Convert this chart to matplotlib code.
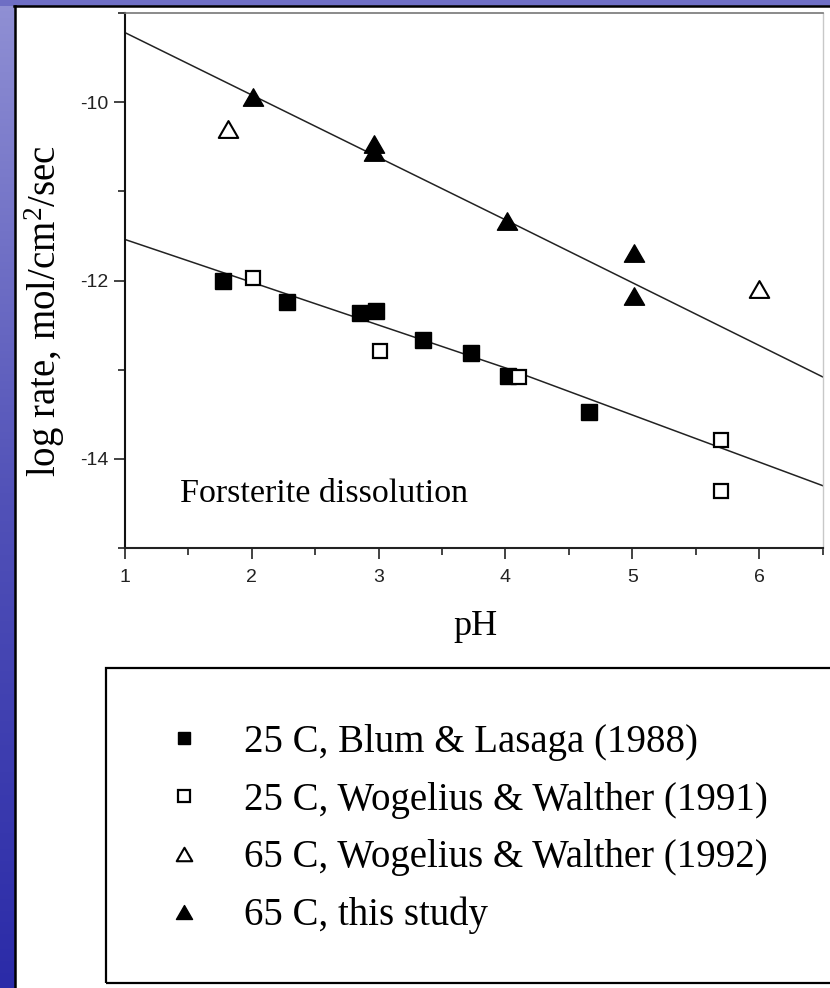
import numpy as np
import matplotlib
matplotlib.use("Agg")
import matplotlib.pyplot as plt
from matplotlib.patches import Rectangle
from matplotlib.path import Path

plt.rcParams['axes.unicode_minus'] = False
plt.rcParams['mathtext.fontset'] = 'custom'
plt.rcParams['mathtext.rm'] = 'Liberation Serif'
plt.rcParams['mathtext.default'] = 'regular'

# forsterite dissolution rates, log mol/cm2/sec vs pH
blum_ph = [1.77, 2.28, 2.85, 2.98, 3.35, 3.73, 4.02, 4.66]
blum_rate = [-12.01, -12.24, -12.37, -12.34, -12.67, -12.81, -13.07, -13.48]

wog91_ph = [2.01, 3.01, 4.11, 5.70, 5.70]
wog91_rate = [-11.97, -12.79, -13.08, -13.79, -14.36]

wog92_ph = [1.81, 6.00]
wog92_rate = [-10.30, -12.09]

study_ph = [2.01, 2.96, 2.96, 4.01, 5.01, 5.01]
study_rate = [-9.94, -10.47, -10.56, -11.33, -11.69, -12.17]

# fitted trends for 25 C and 65 C
fit_ph = [1.0, 4.0, 6.5]
fit_25 = [-11.54, -12.98, -14.30]
fit_65 = [-9.22, -11.32, -13.08]

labels = ['25 C, Blum & Lasaga (1988)',
          '25 C, Wogelius & Walther (1991)',
          '65 C, Wogelius & Walther (1992)',
          '65 C, this study']

serif = 'Liberation Serif'
sans = 'Liberation Sans'
# equilateral triangle, closed so the open marker has all three edges
tri = Path([(-1, -0.866), (1, -0.866), (0, 0.866), (-1, -0.866)], closed=True)

W, H = 830, 988
fig = plt.figure(figsize=(W / 100, H / 100), dpi=100, facecolor='white')

# slide background strips
grad = np.linspace(0, 1, 256).reshape(-1, 1)
band = fig.add_axes([0, 0, 14 / W, 1])
band.imshow(grad, aspect='auto', cmap=matplotlib.colors.LinearSegmentedColormap.from_list(
    'slide', ['#9090d4', '#5252b8', '#2b2ba8']), extent=[0, 1, 1, 0])
band.set_axis_off()
topband = fig.add_axes([0, 1 - 6 / H, 1, 6 / H])
topband.set_facecolor('#6e6ec4')
topband.set_xticks([])
topband.set_yticks([])
for s in topband.spines.values():
    s.set_visible(False)
fig.add_artist(plt.Line2D([14.5 / W, 14.5 / W], [0, 1 - 6 / H], color='black', lw=1.8))
fig.add_artist(plt.Line2D([14 / W, 1], [1 - 6.5 / H, 1 - 6.5 / H], color='black', lw=1.8))

ax = fig.add_axes([125 / W, 1 - 548 / H, 697.5 / W, 535 / H])

ax.plot(fit_ph, fit_65, color='#222222', lw=1.1, zorder=1)
ax.plot(fit_ph, fit_25, color='#222222', lw=1.1, zorder=1)

h1, = ax.plot(blum_ph, blum_rate, ls='none', marker='s', ms=11.5,
              mfc='black', mec='black', mew=1, zorder=3)
h2, = ax.plot(wog91_ph, wog91_rate, ls='none', marker='s', ms=10.5,
              mfc='white', mec='black', mew=1.6, zorder=3)
h3, = ax.plot(wog92_ph, wog92_rate, ls='none', marker=tri, ms=14,
              mfc='white', mec='black', mew=1.5, zorder=3)
h4, = ax.plot(study_ph, study_rate, ls='none', marker=tri, ms=14.5,
              mfc='black', mec='black', mew=1, zorder=3)

ax.set_xlim(1, 6.5)
ax.set_ylim(-15, -9)
ax.set_xticks([1, 2, 3, 4, 5, 6])
ax.set_xticks([1.5, 2.5, 3.5, 4.5, 5.5, 6.5], minor=True)
ax.set_yticks([-14, -12, -10])
ax.set_yticks([-15, -13, -11, -9], minor=True)
ax.tick_params(which='major', direction='out', length=8, width=1.2, color='#222222')
ax.tick_params(which='minor', direction='out', length=5, width=1.2, color='#222222')
ax.tick_params(axis='x', pad=7)
ax.tick_params(axis='y', pad=4)
for t in ax.get_xticklabels() + ax.get_yticklabels():
    t.set_family(sans)
    t.set_fontsize(14)
    t.set_color('#222222')

ax.spines['left'].set_linewidth(1.5)
ax.spines['bottom'].set_linewidth(1.5)
ax.spines['left'].set_color('#111111')
ax.spines['bottom'].set_color('#222222')
ax.spines['top'].set_color('#777777')
ax.spines['top'].set_linewidth(1.2)
ax.spines['top'].set_linestyle((0, (6, 1)))
ax.spines['right'].set_color('#c8c8c8')
ax.spines['right'].set_linewidth(1.0)

ax.set_xlabel('pH', family=serif, fontsize=26)
ax.xaxis.label.set_va('center')
ax.xaxis.set_label_coords(0.502, -0.146)
ax.set_ylabel('log rate, mol/cm$^{2}$/sec', family=serif, fontsize=28)
ax.yaxis.label.set_va('center')
ax.yaxis.set_label_coords(-0.115, 0.443)

ax.text(1.43, -14.39, 'Forsterite dissolution', family=serif, fontsize=24.5,
        va='center', ha='left')

# legend panel below the plot
fig.add_artist(Rectangle((106 / W, 5 / H), 1.2, (983 - 668) / H, transform=fig.transFigure,
                         fill=False, edgecolor='black', lw=1.6, clip_on=False))
fig.legend([h1, h2, h3, h4], labels, loc='upper left',
           bbox_to_anchor=(145.5 / W, 1 - 704.5 / H), frameon=False, borderpad=0,
           handlelength=1.0, handletextpad=1.02, labelspacing=0.53, markerscale=0.8,
           prop={'family': serif, 'size': 28})

fig.savefig('out.png', dpi=100, facecolor='white')
